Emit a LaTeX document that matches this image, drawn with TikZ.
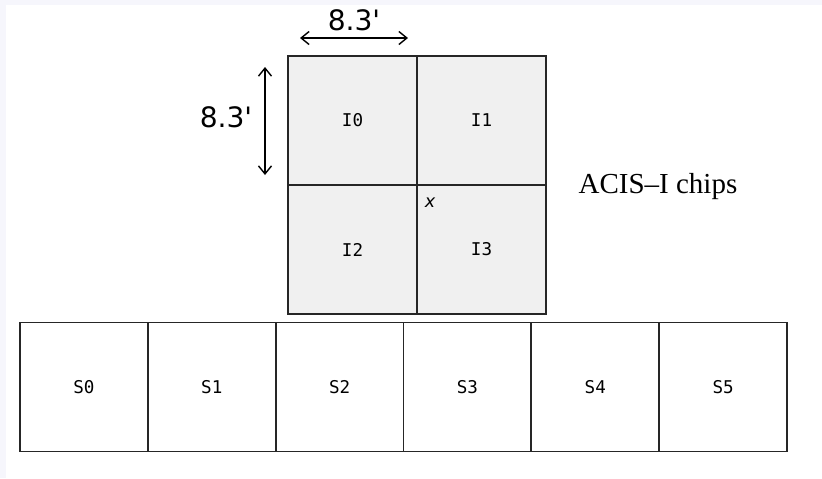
\documentclass[tikz,border=0pt]{standalone}
\usepackage{fontspec}
\setmainfont{Liberation Serif}
\newfontfamily\dimfont{DejaVu Sans}
\newfontfamily\chipfont{DejaVu Sans Mono}
\usetikzlibrary{arrows.meta}

\definecolor{pagetint}{RGB}{246,246,252}
\definecolor{chipgray}{RGB}{240,240,240}
\def\chipsize{25.8mm}

\begin{document}
\begin{tikzpicture}[x=0.2mm,y=-0.2mm,line width=1pt,>={Straight Barb[length=1.6mm,width=2.6mm]}]
    \tikzstyle{chip}=[rectangle,draw=black!85,minimum width=\chipsize,minimum height=\chipsize,inner sep=0pt,font=\chipfont\fontsize{10}{11}\selectfont]
    \tikzstyle{i chip}=[chip,fill=chipgray]
    \tikzstyle{s chip}=[chip,fill=white,minimum width=25.566mm]
    \tikzstyle{dim label}=[font=\dimfont\fontsize{16}{18}\selectfont]

    % page and its faint edge
    \fill[pagetint] (0,0) rectangle (822,478);
    \fill[white] (6,5) rectangle (822,478);
    \useasboundingbox (0,0) rectangle (822,478);

    % Draw the ACIS-I chips
    \node[i chip] (I-0) at (352.5,120.5) {I0};
    \node[i chip] (I-1) at (481.5,120.5) {I1};
    \node[i chip] (I-2) at (352.5,249.5) {I2};
    \node[i chip] (I-3) at (481.5,249.5) {I3};
    \node[font=\dimfont\itshape\fontsize{10}{11}\selectfont] (aim) at (430,203) {x};

    % Draw the ACIS-S chips
    \node[s chip] (S-0) at (83.92,387) {S0};
    \node[s chip] (S-1) at (211.75,387) {S1};
    \node[s chip] (S-2) at (339.58,387) {S2};
    \node[s chip] (S-3) at (467.42,387) {S3};
    \node[s chip] (S-4) at (595.25,387) {S4};
    \node[s chip] (S-5) at (723.08,387) {S5};

    % Chip size
    \coordinate (w-left) at (300,38);
    \coordinate (w-right) at (408,38);
    \coordinate (h-top) at (265,67);
    \coordinate (h-bottom) at (265,175);
    \draw[<->,line width=0.8pt] (w-left) -- (w-right);
    \draw[<->,line width=0.8pt] (h-top) -- (h-bottom);
    \node[dim label] (w-lab) at (354,20) {8.3'};
    \node[dim label] (h-lab) at (226,117) {8.3'};

    % Annotate the array
    \node[font=\fontsize{16.5}{18}\selectfont] (acis-i) at (658,187) {ACIS--I chips};
\end{tikzpicture}
\end{document}
